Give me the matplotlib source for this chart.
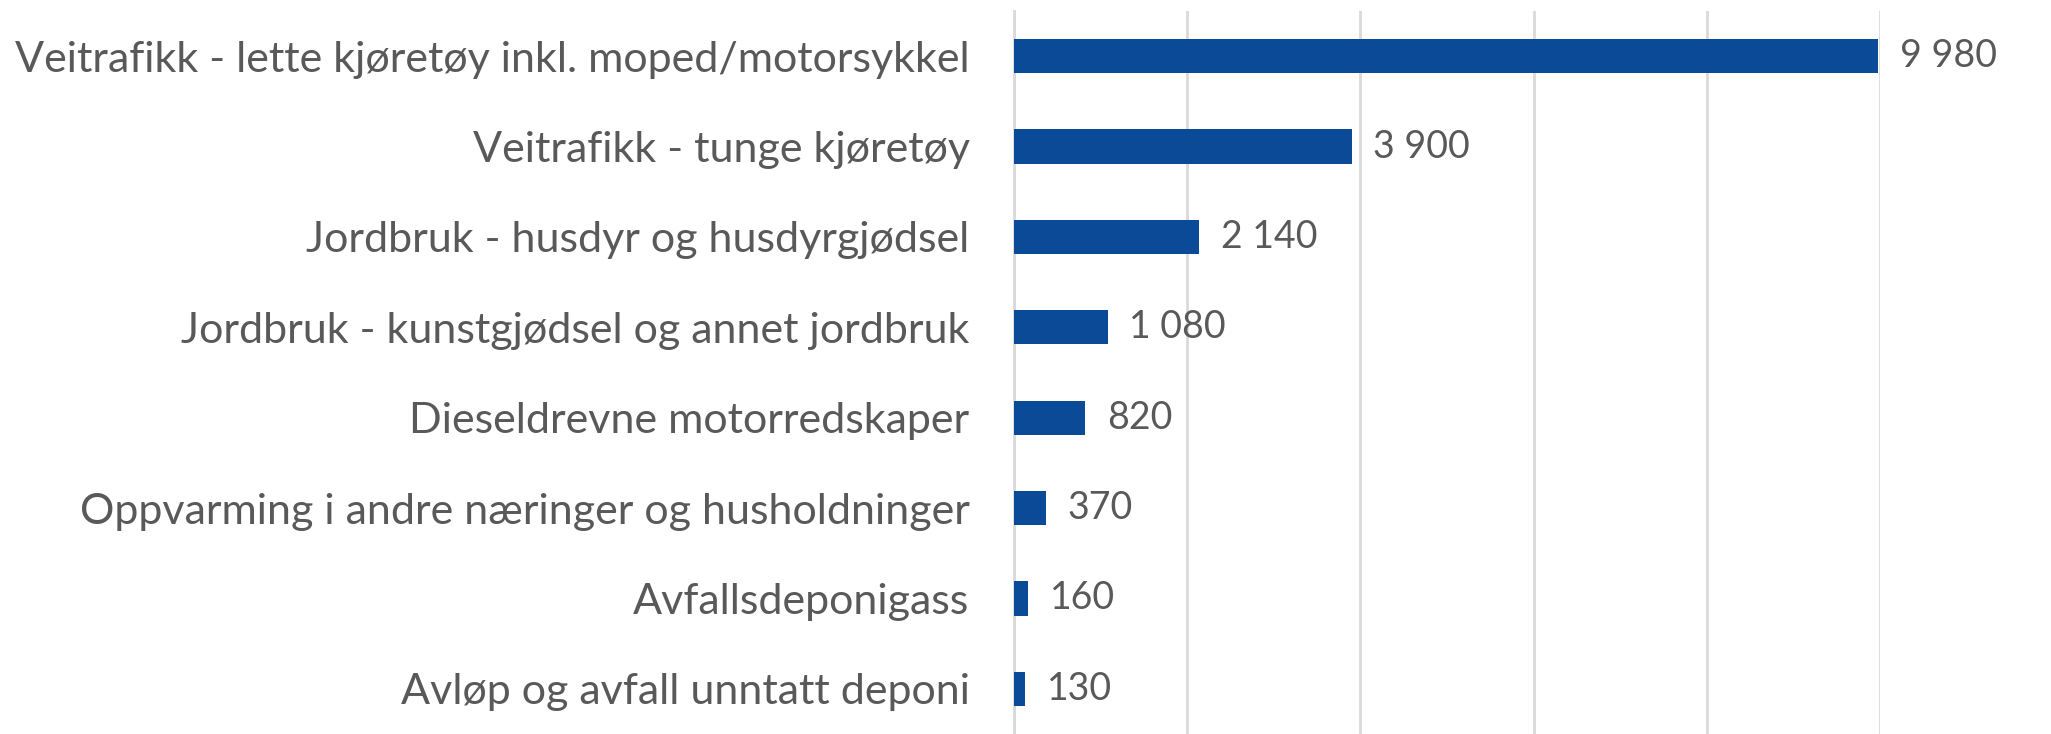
import matplotlib.pyplot as plt
import numpy as np

plt.rcParams['font.family'] = ['Lato', 'DejaVu Sans']

categories = [
    "Veitrafikk - lette kjøretøy inkl. moped/motorsykkel",
    "Veitrafikk - tunge kjøretøy",
    "Jordbruk - husdyr og husdyrgjødsel",
    "Jordbruk - kunstgjødsel og annet jordbruk",
    "Dieseldrevne motorredskaper",
    "Oppvarming i andre næringer og husholdninger",
    "Avfallsdeponigass",
    "Avløp og avfall unntatt deponi",
]
values = [9980, 3900, 2140, 1080, 820, 370, 160, 130]
x_ticks = [0, 2000, 4000, 6000, 8000, 10000]

fig = plt.figure(figsize=(20.51, 7.34), dpi=100)
ax = fig.add_axes([0.4944, 0.0, 0.9166 - 0.4944, 0.985])

y = np.arange(len(categories))
ax.barh(y, values, height=0.38, color='#0b4a97', zorder=3)

# value labels with space as thousands separator
for yi, v in zip(y, values):
    ax.text(v + 250, yi, f"{v:,}".replace(",", " "), va='center', ha='left',
            fontsize=27, color='#595959', clip_on=False)

ax.set_yticks(y)
ax.set_yticklabels(categories, fontsize=31, color='#595959')
ax.tick_params(axis='y', length=0, pad=32)
ax.set_ylim(len(categories) - 0.5, -0.5)

ax.set_xlim(0, 10000)
ax.set_xticks(x_ticks)
ax.set_xticklabels([])
ax.tick_params(axis='x', length=0)
ax.grid(axis='x', color='#d9d9d9', linewidth=2, zorder=0)

for s in ['top', 'right', 'bottom']:
    ax.spines[s].set_visible(False)
ax.spines['left'].set_color('#d9d9d9')
ax.spines['left'].set_linewidth(2)

fig.savefig('out.png', dpi=100)
